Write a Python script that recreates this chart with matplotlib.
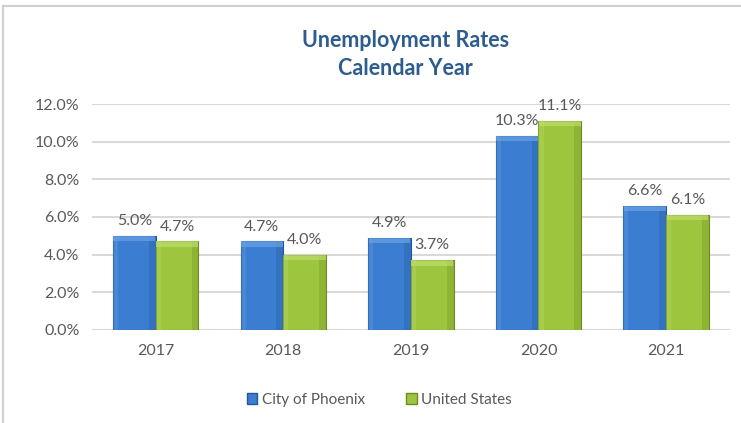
import numpy as np
import matplotlib
matplotlib.use('Agg')
import matplotlib.pyplot as plt
from matplotlib.patches import Patch
from matplotlib.lines import Line2D

years = ['2017', '2018', '2019', '2020', '2021']
phoenix = [5.0, 4.7, 4.9, 10.3, 6.6]
us = [4.7, 4.0, 3.7, 11.1, 6.1]

plt.rcParams['font.family'] = ['Lato', 'DejaVu Sans']

blue = '#3b7dd0'
blue_dark = '#24579a'
blue_light = '#6aa2e6'
green = '#9dc63e'
green_dark = '#6b8c22'
green_light = '#bddd6c'
text_gray = '#595959'

fig = plt.figure(figsize=(7.41, 4.23), dpi=100)
ax = fig.add_axes([0.124, 0.22, 0.861, 0.534])

x = np.arange(len(years))
w = 0.335


def bevel_bars(xs, vals, base, dark, light):
    # main body with a darker outline
    ax.bar(xs, vals, w, color=base, edgecolor=dark, linewidth=0.8, zorder=3)
    # darker right side strip and lighter top cap give a bevelled look
    ax.bar(xs + w * 0.42, vals, w * 0.16, color=dark, alpha=0.3, linewidth=0, zorder=4)
    ax.bar(xs - w * 0.44, vals, w * 0.12, color=light, alpha=0.3, linewidth=0, zorder=4)
    cap = 0.28
    ax.bar(xs, [cap] * len(vals), w * 0.98, bottom=np.array(vals) - cap,
           color=light, alpha=0.7, linewidth=0, zorder=5)


bevel_bars(x - w / 2, phoenix, blue, blue_dark, blue_light)
bevel_bars(x + w / 2, us, green, green_dark, green_light)

for xi, v in zip(x - w / 2, phoenix):
    ax.text(xi, v + 0.42, f'{v:.1f}%', ha='center', va='bottom', fontsize=11.5, color=text_gray, zorder=6)
for xi, v in zip(x + w / 2, us):
    ax.text(xi, v + 0.42, f'{v:.1f}%', ha='center', va='bottom', fontsize=11.5, color=text_gray, zorder=6)

ax.set_xlim(-0.5, len(years) - 0.5)
ax.set_ylim(0, 12)
ax.set_yticks(np.arange(0, 12.1, 2))
ax.set_yticklabels([f'{t:.1f}%' for t in np.arange(0, 12.1, 2)])
ax.set_xticks(x)
ax.set_xticklabels(years)
ax.tick_params(axis='both', length=0, labelsize=11.5, labelcolor=text_gray)
ax.tick_params(axis='y', pad=9)
ax.tick_params(axis='x', pad=10)
ax.grid(axis='y', color='#d9d9d9', linewidth=1.5, zorder=0)
ax.set_axisbelow(True)
for s in ax.spines.values():
    s.set_visible(False)

fig.text(0.547, 0.905, 'Unemployment Rates', ha='center', va='center',
         fontsize=15.5, fontweight='bold', color='#2e5c8f')
fig.text(0.547, 0.838, 'Calendar Year', ha='center', va='center',
         fontsize=15.5, fontweight='bold', color='#2e5c8f')

handles = [Patch(facecolor=blue, edgecolor=blue_dark, label='City of Phoenix'),
           Patch(facecolor=green, edgecolor=green_dark, label='United States')]
leg = fig.legend(handles=handles, loc='center', bbox_to_anchor=(0.512, 0.055), ncol=2,
                 frameon=False, fontsize=11, handlelength=0.7, handleheight=0.7,
                 handletextpad=0.3, columnspacing=2.7)
for t in leg.get_texts():
    t.set_color(text_gray)

# thin frame around the chart area
fig.add_artist(Line2D([3 / 741, 3 / 741], [0, 1 - 6 / 423], color='#d0d0d0', linewidth=1.5))
fig.add_artist(Line2D([3 / 741, 1], [1 - 6 / 423, 1 - 6 / 423], color='#d0d0d0', linewidth=1.5))

fig.savefig('out.png', dpi=100)
